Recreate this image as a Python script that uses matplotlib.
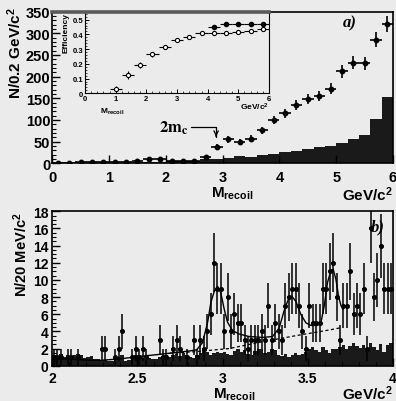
import numpy as np
import matplotlib
matplotlib.use("Agg")
import matplotlib.pyplot as plt
from matplotlib.ticker import MultipleLocator, FuncFormatter

plt.rcParams['font.family'] = ['Liberation Sans', 'DejaVu Sans']
plt.rcParams['font.weight'] = 'bold'
plt.rcParams['mathtext.fontset'] = 'custom'
plt.rcParams['mathtext.rm'] = 'Liberation Sans:bold'
plt.rcParams['mathtext.bf'] = 'Liberation Sans:bold'
plt.rcParams['mathtext.it'] = 'Liberation Sans:bold'

W, H = 396, 402
BG = '#ebebeb'
HISTC = '#1a1a1a'

# ---- panel a) : recoil mass, 0.2 GeV bins
a_centers = np.arange(0.1, 6.0, 0.2)
a_data = [1, 1, 2, 3, 2, 2, 2, 5, 11, 9, 5, 6, 5, 14, 38,
          55, 48, 57, 76, 100, 115, 135, 148, 155, 172, 212, 232, 231, 285, 321]
a_bkg = [2, 2, 2, 2, 2, 2, 3, 3, 4, 4, 5, 5, 6, 9, 11,
         13, 16, 15, 19, 22, 25, 28, 34, 37, 41, 47, 55, 66, 102, 152]

# inset: efficiency
eff_x = [1.0, 1.4, 1.8, 2.2, 2.6, 3.0, 3.4, 3.8, 4.2, 4.6, 5.0, 5.4, 5.8]
eff_open = [0.029, 0.123, 0.193, 0.264, 0.316, 0.365, 0.379, 0.408, 0.408, 0.408, 0.415, 0.426, 0.435]
eff_open_err = [0.02, 0.025, 0.02, 0.015, 0.012, 0.01, 0.008, 0.008, 0.006, 0.006, 0.006, 0.006, 0.006]
eff2_x = [4.2, 4.6, 5.0, 5.4, 5.8]
eff_fill = [0.448, 0.468, 0.468, 0.468, 0.473]

# ---- panel b) : 20 MeV bins 2..4
b_counts = [1, 1, 1, 0, 1, 1, 0, 1, 0, 0,
            0, 0, 0, 0, 2, 2, 0, 0, 1, 2,
            4, 0, 0, 1, 2, 1, 2, 1, 0, 0,
            0, 3, 1, 1, 0, 2, 3, 2, 0, 1,
            0, 3, 1, 3, 2, 4, 6, 12, 9, 9,
            4, 8, 4, 6, 5, 5, 3, 2, 3, 3,
            3, 4, 3, 7, 3, 5, 4, 3, 7, 8,
            9, 9, 7, 4, 2, 7, 5, 5, 5, 9,
            9, 11, 12, 8, 3, 7, 7, 11, 6, 7,
            6, 9, 2, 16, 8, 10, 14, 9, 9, 9]
b_bkg = [1.2, 1.0, 1.4, 1.0, 1.2, 1.0, 1.3, 1.4, 1.3, 0.9,
         1.0, 1.1, 0.8, 0.8, 0.7, 0.7, 0.6, 0.6, 0.8, 1.0,
         1.2, 0.6, 0.7, 1.0, 1.2, 1.3, 0.9, 0.8, 0.9, 0.8,
         0.8, 1.0, 1.1, 1.2, 1.0, 1.2, 1.4, 1.1, 1.5, 1.2,
         1.0, 0.9, 1.3, 1.5, 1.8, 1.6, 1.2, 1.5, 1.6, 1.5,
         1.6, 1.4, 1.3, 1.7, 2.0, 1.6, 1.8, 1.4, 1.2, 1.7,
         1.9, 2.0, 1.5, 1.6, 2.0, 1.8, 1.2, 1.1, 1.4, 1.0,
         1.3, 1.5, 1.2, 1.4, 1.6, 2.0, 2.2, 1.8, 1.6, 2.2,
         1.8, 1.5, 1.9, 2.0, 2.2, 2.4, 2.0, 2.3, 2.6, 2.3,
         2.1, 2.4, 1.9, 2.7, 2.2, 1.8, 2.5, 1.6, 2.4, 2.7]

# fit curve
fit_x = [2.00, 2.10, 2.20, 2.28, 2.40, 2.52, 2.62, 2.71, 2.80, 2.848, 2.883, 2.913, 2.932,
         2.952, 2.971, 2.990, 3.010, 3.029, 3.058, 3.097, 3.156, 3.235, 3.294, 3.333,
         3.362, 3.388, 3.407, 3.431, 3.460, 3.490, 3.519, 3.558, 3.578, 3.598, 3.617,
         3.637, 3.651, 3.666, 3.682, 3.696, 3.708]
fit_y = [0.86, 0.75, 0.66, 0.62, 0.8, 1.1, 1.3, 1.5, 1.7, 1.85, 2.7, 5.1, 7.4,
         8.7, 9.25, 8.5, 6.6, 5.1, 4.1, 3.7, 3.4, 3.3, 3.4, 4.4,
         6.4, 7.8, 8.1, 7.5, 6.0, 5.0, 4.7, 4.7, 5.0, 7.0, 9.7,
         11.1, 11.2, 10.1, 8.1, 7.0, 6.6]
bkgfit_x = [2.69, 2.85, 3.04, 3.235, 3.431, 3.637, 3.70]
bkgfit_y = [1.45, 1.65, 2.0, 2.8, 3.5, 4.2, 4.45]


def fr(px_l, px_t, px_r, px_b):
    return [px_l / W, 1 - px_b / H, (px_r - px_l) / W, (px_b - px_t) / H]


fig = plt.figure(figsize=(W / 100, H / 100), dpi=100, facecolor=BG)

# ---------------- top panel
ax1 = fig.add_axes(fr(52.3, 12.5, 393, 164.3))
ax1.set_facecolor(BG)
edges_a = np.append(a_centers - 0.1, 6.0)
ax1.stairs(a_bkg, edges_a, fill=True, color=HISTC, linewidth=0)
ax1.errorbar(a_centers, a_data, xerr=0.1, yerr=np.sqrt(a_data), fmt='o', ms=3.2,
             color='black', elinewidth=1.2, capsize=0)
ax1.set_xlim(0, 6)
ax1.set_ylim(0, 350)
ax1.yaxis.set_major_locator(MultipleLocator(50))
ax1.yaxis.set_minor_locator(MultipleLocator(10))
ax1.xaxis.set_major_locator(MultipleLocator(1))
ax1.tick_params(direction='in', labelsize=10.5, length=6, width=1)
ax1.tick_params(axis='y', pad=1.5)
ax1.tick_params(axis='x', pad=4.5)
ax1.tick_params(which='minor', direction='in', length=3, width=0.8)
for s in ax1.spines.values():
    s.set_linewidth(1.2)
ax1.text(5.12, 315, 'a)', fontsize=12, family='Liberation Serif', style='italic', weight='bold')

# 2m_c arrow
ax1.annotate('', xy=(2.885, 55), xytext=(2.40, 84),
             arrowprops=dict(arrowstyle='-', lw=0.9, color='black',
                             connectionstyle='angle,angleA=0,angleB=90,rad=0'))
ax1.annotate('', xy=(2.885, 55), xytext=(2.885, 70),
             arrowprops=dict(arrowstyle='->', lw=0.9, color='black', mutation_scale=8))
ax1.text(2.39, 84, r'$\mathbf{2m_c}$', fontsize=12, ha='right', va='center',
         math_fontfamily='stix')

fig.text(211 / W, 1 - 194 / H, r'M$_{\mathregular{recoil}}$', fontsize=11, ha='left', va='center')
fig.text(393 / W, 1 - 195 / H, r'GeV/c$^{\mathregular{2}}$', fontsize=11, ha='right', va='center')
fig.text(15 / W, 1 - 7 / H, r'N/0.2 GeV/c$^{\mathregular{2}}$', fontsize=11, rotation=90,
         ha='center', va='top')

# inset
ax_in = fig.add_axes(fr(85, 12.5, 269, 94.3))
ax_in.set_facecolor(BG)
ax_in.errorbar(eff_x, eff_open, xerr=0.2, yerr=eff_open_err, fmt='o', ms=3,
               mfc='white', mec='black', mew=0.8, color='black', elinewidth=0.8, capsize=0)
ax_in.errorbar(eff2_x, eff_fill, xerr=0.2, yerr=0.005, fmt='o', ms=3,
               color='black', elinewidth=0.8, capsize=0)
ax_in.set_xlim(0, 6)
ax_in.set_ylim(0, 0.555)
ax_in.xaxis.set_major_locator(MultipleLocator(1))
ax_in.xaxis.set_minor_locator(MultipleLocator(0.2))
ax_in.yaxis.set_major_locator(MultipleLocator(0.1))
ax_in.yaxis.set_minor_locator(MultipleLocator(0.02))
ax_in.yaxis.set_major_formatter(FuncFormatter(lambda v, p: '%g' % round(v, 2)))
ax_in.tick_params(direction='in', labelsize=5.5, length=3, width=0.7, pad=1.2)
ax_in.tick_params(which='minor', direction='in', length=1.5, width=0.5)
for s in ax_in.spines.values():
    s.set_linewidth(0.8)
ax_in.spines['top'].set_visible(False)
fig.add_artist(plt.Line2D([52.3 / W, 269 / W], [1 - 12.5 / H, 1 - 12.5 / H],
                          color='#5a5a5a', lw=2.6))
fig.text(66 / W, 1 - 13 / H, 'Efficiency', fontsize=6, rotation=90, ha='center', va='top')
fig.text(100 / W, 1 - 112 / H, r'M$_{\mathregular{recoil}}$', fontsize=6, ha='left', va='center')
fig.text(269 / W, 1 - 107.5 / H, r'GeV/c$^{\mathregular{2}}$', fontsize=6, ha='right', va='center')

# ---------------- bottom panel
ax2 = fig.add_axes(fr(52.3, 212.3, 392.7, 366.7))
ax2.set_facecolor(BG)
edges_b = np.linspace(2.0, 4.0, 101)
centers_b = 0.5 * (edges_b[:-1] + edges_b[1:])
ax2.stairs(b_bkg, edges_b, fill=True, color=HISTC, linewidth=0)
cnt = np.array(b_counts, dtype=float)
m = cnt > 0
ax2.errorbar(centers_b[m], cnt[m], xerr=0.01, yerr=np.sqrt(cnt[m]), fmt='o', ms=2.6,
             color='black', elinewidth=1.1, capsize=0)
ax2.plot(fit_x, fit_y, color='black', lw=1.0)
ax2.plot(bkgfit_x, bkgfit_y, color='black', lw=0.9, ls=(0, (2.5, 2)))
ax2.set_xlim(2, 4)
ax2.set_ylim(0, 18)
ax2.xaxis.set_major_locator(MultipleLocator(0.5))
ax2.xaxis.set_minor_locator(MultipleLocator(0.1))
ax2.yaxis.set_major_locator(MultipleLocator(2))
ax2.yaxis.set_minor_locator(MultipleLocator(0.5))
ax2.xaxis.set_major_formatter(FuncFormatter(lambda v, p: '%g' % v))
ax2.tick_params(direction='in', labelsize=10, length=6, width=1)
ax2.tick_params(axis='y', pad=3)
ax2.tick_params(axis='x', pad=3.5)
ax2.tick_params(which='minor', direction='in', length=3, width=0.8)
for s in ax2.spines.values():
    s.set_linewidth(1.2)
ax2.text(3.87, 15.8, 'b)', fontsize=12, family='Liberation Serif', style='italic', weight='bold')

fig.text(213 / W, 1 - 395 / H, r'M$_{\mathregular{recoil}}$', fontsize=11, ha='left', va='center')
fig.text(393 / W, 1 - 394 / H, r'GeV/c$^{\mathregular{2}}$', fontsize=11, ha='right', va='center')
fig.text(21 / W, 1 - 212 / H, r'N/20 MeV/c$^{\mathregular{2}}$', fontsize=10.5, rotation=90,
         ha='center', va='top')

fig.savefig('out.png', dpi=100, facecolor=BG)
